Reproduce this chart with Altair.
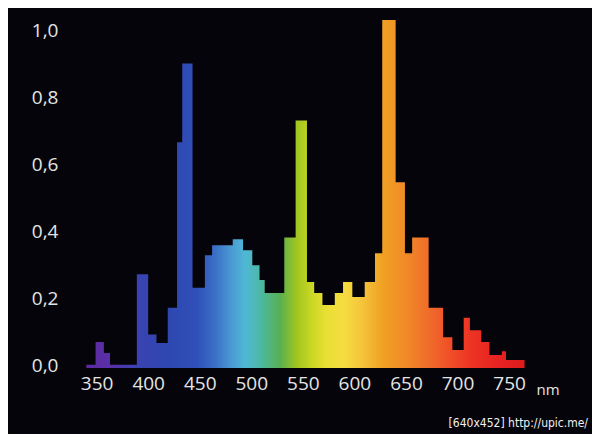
import altair as alt
import pandas as pd

# Step edges (nm) and relative intensity of each step
edges = [340, 349, 357, 363, 389, 400, 408, 419, 428, 433, 443, 455, 462, 482, 492,
         501, 508, 513, 532, 543, 554, 561, 569, 581, 589, 598, 610, 620, 627, 640,
         649, 656, 672, 686, 695, 706, 712, 723, 731, 743, 747, 765]
values = [0.01, 0.078, 0.045, 0.01, 0.28, 0.10, 0.075, 0.18, 0.675, 0.91, 0.24,
          0.337, 0.367, 0.385, 0.352, 0.307, 0.263, 0.224, 0.39, 0.74, 0.257, 0.224,
          0.188, 0.224, 0.257, 0.212, 0.257, 0.343, 1.04, 0.555, 0.343, 0.39, 0.18,
          0.092, 0.054, 0.15, 0.113, 0.078, 0.039, 0.05, 0.024]

x_ticks = [350, 400, 450, 500, 550, 600, 650, 700, 750]
y_ticks = [0.0, 0.2, 0.4, 0.6, 0.8, 1.0]

# spectrum colours by wavelength
wl_stops = [340, 362, 388, 420, 448, 465, 480, 494, 510, 528, 544, 558, 572, 590,
            608, 628, 650, 672, 692, 712, 740, 765]
wl_colors = ["#5b2a9e", "#5a2fa8", "#3b42b2", "#2e47b0", "#3050b8", "#3a70c8",
             "#4a98d2", "#50b8d6", "#4cb8a0", "#58b050", "#a0c620", "#c8d624",
             "#e8e034", "#f5dc40", "#f5c43a", "#f0a024", "#f08a28", "#f06c2a",
             "#f05028", "#ee3424", "#e62222", "#de1c1c"]

watermark = "[640x452] http://upic.me/"

lo, hi = edges[0], edges[-1]
stops = [alt.GradientStop(offset=(w - lo) / (hi - lo), color=c)
         for w, c in zip(wl_stops, wl_colors)]

df = pd.DataFrame({"nm": edges, "v": values + [values[-1]]})

font = "Open Sans"

area = alt.Chart(df).mark_area(
    interpolate="step-after",
    color=alt.Gradient(gradient="linear", stops=stops, x1=0, x2=1, y1=0, y2=0),
).encode(
    x=alt.X("nm:Q", scale=alt.Scale(domain=[330, 780], nice=False, zero=False),
            axis=alt.Axis(values=x_ticks, format="d", domain=False, ticks=False,
                          tickSize=0, grid=False, labelColor="#e4e4e4",
                          labelFont=font, labelFontSize=19, labelPadding=6,
                          labelFlush=False,
                          title="nm", titleColor="#e4e4e4", titleFont=font,
                          titleFontSize=15, titleFontWeight="normal",
                          titleX=460, titleY=21, titleAlign="left",
                          titleBaseline="middle")),
    y=alt.Y("v:Q", scale=alt.Scale(domain=[0, 1.07], nice=False),
            axis=alt.Axis(values=y_ticks,
                          labelExpr="replace(format(datum.value, '.1f'), '.', ',')",
                          domain=False, ticks=False, tickSize=0, grid=False,
                          labelColor="#e4e4e4", labelFont=font, labelFontSize=19,
                          labelPadding=18, labelOffset=-3, labelFlush=False,
                          title=None)),
)

wm = alt.Chart(pd.DataFrame({"t": [watermark]})).mark_text(
    align="right", baseline="middle", font="DejaVu Sans Condensed",
    fontSize=12, color="#f0f0f0",
).encode(text="t:N", x=alt.value(512), y=alt.value(413))

chart = alt.layer(area, wm).properties(
    width=464, height=358,
    autosize=alt.AutoSizeParams(type="none"),
    padding={"left": 68, "top": 2, "right": 52, "bottom": 66},
    background="#05040b",
).configure_view(stroke=None)

chart.save("out.html", embed_options={"renderer": "svg", "actions": False})
